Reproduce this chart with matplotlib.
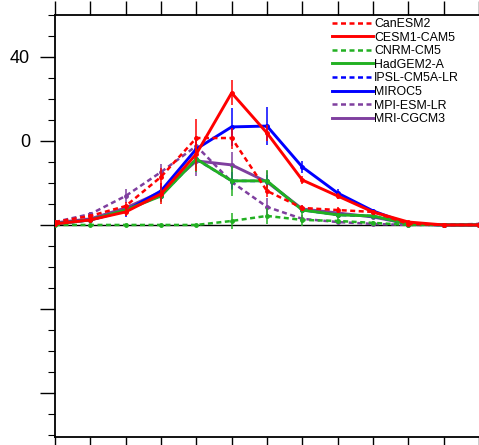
import matplotlib
matplotlib.use("Agg")
import matplotlib.pyplot as plt
from matplotlib.ticker import MultipleLocator, FixedLocator

plt.rcParams['font.family'] = ['Liberation Sans', 'DejaVu Sans']

months = list(range(13))

models = ['CanESM2', 'CESM1-CAM5', 'CNRM-CM5', 'HadGEM2-A',
          'IPSL-CM5A-LR', 'MIROC5', 'MPI-ESM-LR', 'MRI-CGCM3']

canesm2 = [-38.6, -35.7, -31.0, -17.1, 1.4, 1.4, -23.8, -31.9, -32.9, -33.8, -39.5, -40.0, -40.0]
cesm1 = [-39.5, -37.6, -33.8, -25.2, -6.2, 22.9, 3.8, -18.6, -26.2, -33.8, -38.6, -40.0, -40.0]
cnrm = [-40.0, -40.0, -40.0, -40.0, -40.0, -38.1, -35.7, -37.6, -38.1, -39.0, -40.0, -40.0, -40.0]
hadgem = [-39.5, -37.6, -32.9, -26.2, -8.6, -19.0, -19.0, -32.9, -35.2, -35.7, -39.5, -40.0, -40.0]
ipsl = [-39.5, -37.6, -33.0, -26.0, -8.7, -19.0, -19.1, -32.9, -35.2, -35.8, -39.5, -40.0, -40.0]
miroc5 = [-39.5, -37.6, -33.3, -23.8, -3.8, 6.7, 7.1, -12.4, -24.8, -33.3, -39.5, -40.0, -40.0]
mpi = [-38.6, -34.8, -26.2, -14.8, -2.4, -19.5, -31.4, -37.1, -38.6, -39.5, -40.0, -40.0, -39.5]
mri = [-39.0, -37.1, -31.9, -24.3, -9.5, -11.4, -19.5, -32.4, -34.3, -36.2, -39.5, -40.0, -40.0]

# spread across ensemble members
err_canesm2 = [0.4, 1.0, 2.0, 4.0, 9.0, 5.0, 3.0, 1.5, 1.5, 1.0, 0.3, 0.2, 0.2]
err_cesm1 = [0.4, 1.0, 2.0, 5.0, 8.0, 6.0, 4.0, 2.0, 1.5, 1.0, 0.3, 0.2, 0.2]
err_cnrm = [0.2, 0.5, 0.5, 0.5, 0.5, 4.0, 4.0, 3.0, 1.5, 1.0, 0.2, 0.2, 0.2]
err_hadgem = [0.3, 1.0, 1.5, 3.0, 6.0, 7.0, 5.0, 2.0, 1.5, 1.0, 0.3, 0.2, 0.2]
err_ipsl = [0.3, 1.0, 1.5, 2.5, 4.0, 4.0, 3.0, 1.5, 1.0, 0.5, 0.2, 0.2, 0.2]
err_miroc5 = [0.4, 1.0, 3.0, 4.0, 6.0, 9.0, 9.0, 3.0, 2.0, 1.0, 0.3, 0.2, 0.2]
err_mpi = [0.4, 1.0, 3.5, 4.0, 5.0, 4.0, 4.0, 2.0, 1.0, 0.5, 0.2, 0.2, 0.2]
err_mri = [0.4, 1.0, 2.0, 3.0, 7.0, 6.0, 5.0, 2.0, 1.5, 1.0, 0.3, 0.2, 0.2]

series = [canesm2, cesm1, cnrm, hadgem, ipsl, miroc5, mpi, mri]
errors = [err_canesm2, err_cesm1, err_cnrm, err_hadgem, err_ipsl, err_miroc5, err_mpi, err_mri]
colors = ['#ff0000', '#ff0000', '#22b022', '#22b022',
          '#0000ff', '#0000ff', '#7f3f9f', '#7f3f9f']
dashed = [True, False, True, False, True, False, True, False]

fig = plt.figure(figsize=(4.79, 4.45), dpi=100)
ax = fig.add_axes([55 / 479, 8 / 445, 12.2 * 35.33 / 479, 422 / 445])

ax.axhline(-40, color='black', lw=1.0, zorder=1)

n = len(models)
for i, (name, y, e, c, d) in enumerate(zip(models, series, errors, colors, dashed)):
    z = 10 + (n - i)
    ls = (0, (2.0, 1.4)) if d else '-'
    lw = 1.8 if d else 2.1
    ax.errorbar(months, y, yerr=e, color=c, ls='none', elinewidth=1.1,
                capsize=0, marker='o', markersize=2.5, zorder=z)
    ax.plot(months, y, color=c, ls=ls, lw=lw, label=name, zorder=z)

ax.set_xlim(0, 12.2)
ax.set_ylim(-141, 60)

ax.xaxis.set_major_locator(MultipleLocator(1))
ax.tick_params(axis='x', which='major', direction='out', length=10, width=1.0,
               top=True, bottom=True, labelbottom=False, labeltop=False)
ax.yaxis.set_major_locator(FixedLocator([40, 0, -40, -80, -120]))
ax.yaxis.set_minor_locator(MultipleLocator(10))
ax.set_yticklabels(['40', '0', '', '', ''])
ax.tick_params(axis='y', which='major', direction='out', length=11, width=1.0,
               labelsize=13, pad=7)
ax.tick_params(axis='y', which='minor', direction='out', length=5, width=0.8)

for side in ['left', 'top', 'bottom']:
    ax.spines[side].set_linewidth(1.3)
ax.spines['right'].set_visible(False)

leg = fig.legend(loc='upper left', bbox_to_anchor=(332 / 479, 1 - 18 / 445),
                 frameon=False, fontsize=8.9, handlelength=3.3, handletextpad=0.1,
                 labelspacing=0.13, borderpad=0, borderaxespad=0)

fig.savefig('out.png', dpi=100)
